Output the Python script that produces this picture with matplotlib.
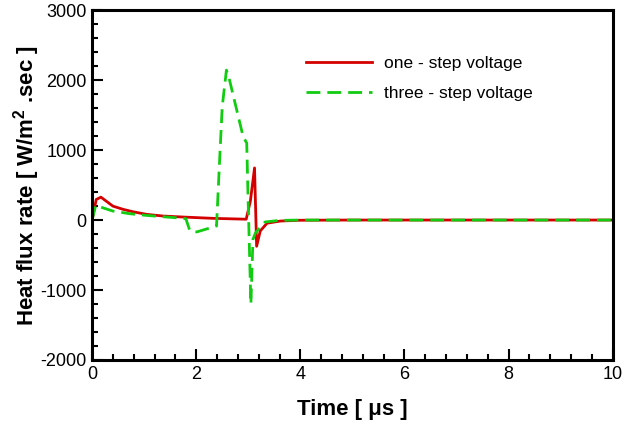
import matplotlib
matplotlib.use("Agg")
import matplotlib.pyplot as plt
from matplotlib.ticker import MultipleLocator

plt.rcParams.update({
    'font.family': ['Liberation Sans', 'DejaVu Sans'],
    'mathtext.fontset': 'custom',
    'mathtext.rm': 'Liberation Sans',
    'mathtext.bf': 'Liberation Sans:bold',
    'axes.unicode_minus': False,
})

# one-step voltage response
t_one = [0.0, 0.08, 0.17, 0.4, 0.6, 0.79, 1.05, 1.37, 1.75, 2.33, 2.96,
         3.04, 3.12, 3.16, 3.23, 3.36, 3.62, 4.0, 5.0, 10.0]
q_one = [0, 294, 327, 199, 152, 118, 81, 57, 43, 24, 12,
         270, 745, -375, -156, -45, -14, -3, 0, 0]

# three-step voltage response
t_three = [0.0, 0.07, 0.4, 0.73, 1.05, 1.37, 1.69, 1.8, 1.88, 2.01, 2.39,
           2.45, 2.50, 2.58, 2.64, 2.9, 2.97, 3.0, 3.05, 3.09, 3.14, 3.32,
           3.6, 4.0, 5.0, 10.0]
q_three = [0, 209, 128, 90, 66, 47, 28, 20, -156, -170, -85,
           863, 1622, 2143, 2001, 1195, 1100, 200, -1200, -275, -180, -28,
           -5, 0, 0, 0]

fig = plt.figure(figsize=(6.35, 4.23), dpi=100)
ax = fig.add_axes([0.145, 0.149, 0.82, 0.827])

ax.plot(t_one, q_one, color='#d40000', lw=2.0, label='one - step voltage')
ax.plot(t_three, q_three, color='#11cc11', lw=2.0, ls=(0, (5, 2.5)),
        label='three - step voltage')

ax.set_xlim(0, 10)
ax.set_ylim(-2000, 3000)
ax.xaxis.set_major_locator(MultipleLocator(2))
ax.xaxis.set_minor_locator(MultipleLocator(0.4))
ax.yaxis.set_major_locator(MultipleLocator(1000))
ax.yaxis.set_minor_locator(MultipleLocator(200))
ax.tick_params(which='both', direction='in', top=False, right=False,
               labelsize=13, width=1.5)
ax.tick_params(which='major', length=8, pad=4)
ax.tick_params(which='minor', length=4)
for sp in ax.spines.values():
    sp.set_linewidth(2.2)

ax.set_xlabel('Time [ μs ]', fontsize=16, fontweight='bold', labelpad=12)
ax.set_ylabel(r'Heat flux rate [ W/m$^\mathbf{2}$ .sec ]', fontsize=16,
              fontweight='bold', labelpad=-1)

ax.legend(loc='upper left', bbox_to_anchor=(0.38, 0.915), frameon=False,
          fontsize=12.5, handlelength=3.8, labelspacing=0.9, handletextpad=0.7)

fig.savefig('out.png', dpi=100)
